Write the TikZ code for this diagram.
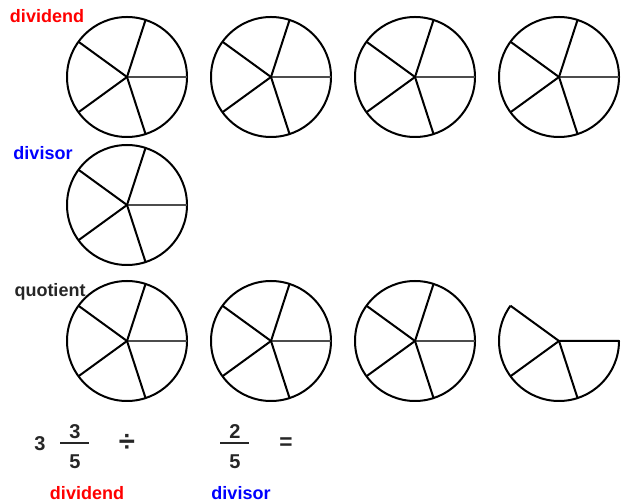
\documentclass[tikz,border=0pt]{standalone}
\usepackage{fontspec}
\setmainfont{Liberation Sans}
\begin{document}
\begin{tikzpicture}[x=0.75pt,y=0.75pt,
  pie/.style={circle,draw=black,line width=1.5pt,minimum size=90pt,inner sep=0pt,outer sep=0pt},
  spoke/.style={line width=1.5pt,black},
  gspoke/.style={line width=1.5pt,black!70},
  lbl/.style={font=\fontsize{13.5}{16}\selectfont\bfseries,inner sep=0pt},
  eq/.style={font=\fontsize{15}{17}\selectfont\bfseries,inner sep=0pt,text=black!85},
  bar/.style={line width=1.6pt,black!85}]
\useasboundingbox (0,0) rectangle (621,503);
% full pies
\foreach \n/\x/\y in {a1/127/426,a2/271/426,a3/415/426,a4/559/426,b1/127/298,q1/127/162,q2/271/162,q3/415/162}{
  \node[pie] (\n) at (\x,\y) {};
  \draw[gspoke] (\n.center) -- (\n.0);
  \foreach \t in {72,144,216,288}{\draw[spoke] (\n.center) -- (\n.\t);}
}
% partial pie (3/5)
\coordinate (q4) at (559,162);
\draw[spoke,line join=round] (q4) ++(144:60) -- (q4) -- ++(0:60) arc[start angle=0,end angle=-216,radius=60];
\draw[spoke] (q4) -- ++(216:60);
\draw[spoke] (q4) -- ++(288:60);
% labels
\node[lbl,text=red] (t1) at (47,487) {dividend};
\node[lbl,text=blue] (t2) at (43,350) {divisor};
\node[lbl,text=black!85] (t3) at (50,211) {quotient};
% equation
\node[eq] (w) at (40,59) {3};
\node[eq] (n1) at (75,71) {3};
\node[eq] (d1) at (75,41) {5};
\coordinate (b1l) at (60,60); \coordinate (b1r) at (89,60);
\draw[bar] (b1l) -- (b1r);
\node[eq,font=\fontsize{22}{24}\selectfont\bfseries] (dv) at (127,60) {÷};
\node[eq] (n2) at (235,71) {2};
\node[eq] (d2) at (235,41) {5};
\coordinate (b2l) at (220,60); \coordinate (b2r) at (249,60);
\draw[bar] (b2l) -- (b2r);
\node[eq,font=\fontsize{17}{19}\selectfont\bfseries] (eqs) at (286,59) {=};
\node[lbl,text=red] (t4) at (87,10) {dividend};
\node[lbl,text=blue] (t5) at (241,10) {divisor};
\end{tikzpicture}
\end{document}
